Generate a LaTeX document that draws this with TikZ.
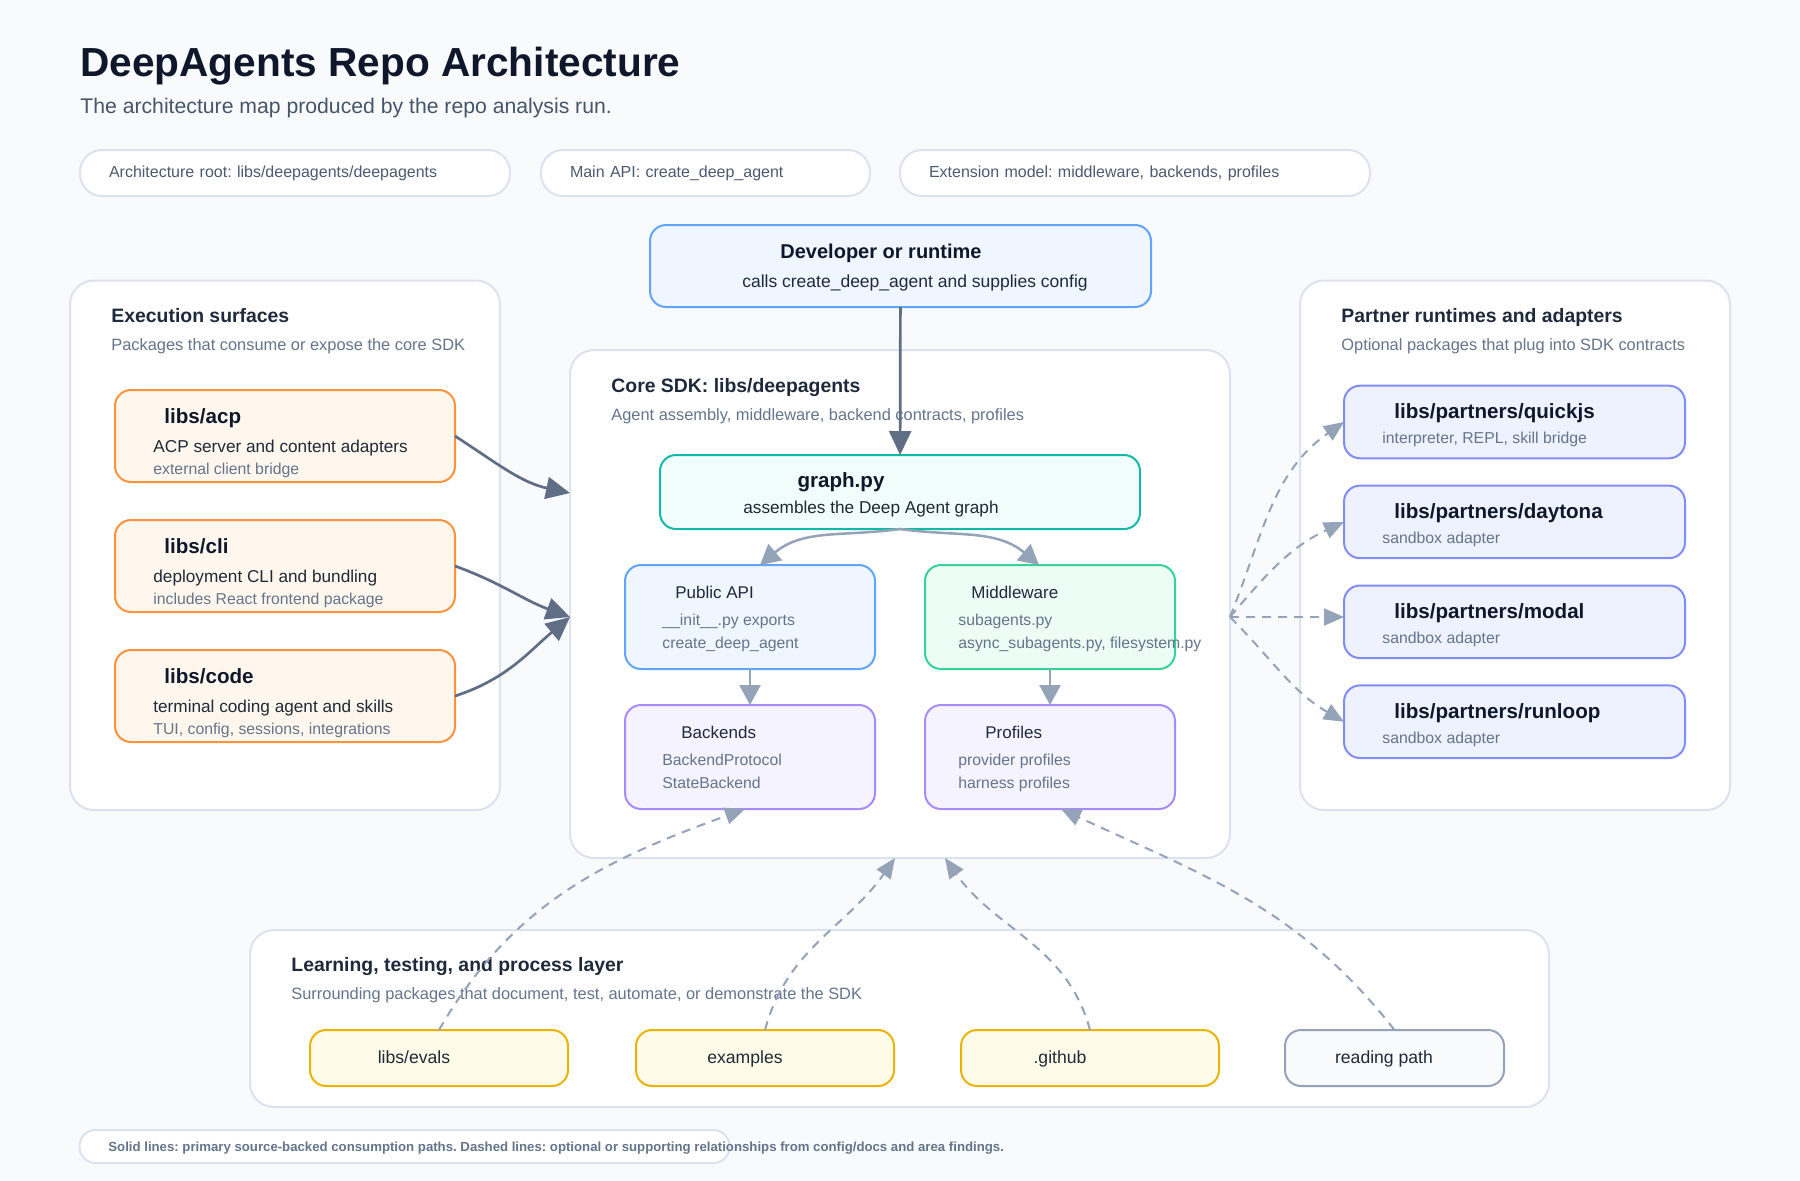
\documentclass[tikz,border=0pt]{standalone}
\usepackage{fontspec}
\setmainfont{Liberation Sans}
\usetikzlibrary{positioning, arrows.meta}
\definecolor{pagebg}{HTML}{F8FAFC}
\definecolor{panelstroke}{HTML}{DCE3EE}
\definecolor{ink}{HTML}{0F172A}
\definecolor{headink}{HTML}{1E293B}
\definecolor{bodyink}{HTML}{1F2937}
\definecolor{subink}{HTML}{475569}
\definecolor{pillink}{HTML}{4B5A70}
\definecolor{mutedink}{HTML}{64748B}
\definecolor{solidline}{HTML}{5F6E85}
\definecolor{dashline}{HTML}{94A3B8}
\definecolor{surffill}{HTML}{FFF7ED}
\definecolor{surfstroke}{HTML}{FB923C}
\definecolor{apifill}{HTML}{EFF6FF}
\definecolor{apistroke}{HTML}{60A5FA}
\definecolor{graphfill}{HTML}{F0FDFA}
\definecolor{graphstroke}{HTML}{14B8A6}
\definecolor{mwfill}{HTML}{ECFDF5}
\definecolor{mwstroke}{HTML}{34D399}
\definecolor{corefill}{HTML}{F5F3FF}
\definecolor{corestroke}{HTML}{A78BFA}
\definecolor{partnerfill}{HTML}{EEF2FF}
\definecolor{partnerstroke}{HTML}{818CF8}
\definecolor{learnfill}{HTML}{FEFBE8}
\definecolor{learnstroke}{HTML}{EAB308}
\definecolor{pathfill}{HTML}{F8FAFC}
\definecolor{pathstroke}{HTML}{94A3B8}

\begin{document}
\frenchspacing
\begin{tikzpicture}[
  x=0.5pt, y=-0.5pt,
  panel/.style={rectangle, rounded corners=12pt, draw=panelstroke, line width=1pt,
                fill=white, inner sep=0pt, outer sep=0pt},
  pill/.style={rectangle, rounded corners=11pt, draw=panelstroke, line width=1pt,
               fill=white, minimum height=23pt, inner xsep=14.5pt, inner ysep=0pt,
               outer sep=0pt, align=left, text=pillink, font=\fontsize{8}{10}\selectfont},
  card/.style={rectangle, rounded corners=8pt, line width=1pt, inner sep=0pt, outer sep=0pt},
  surface/.style={card, draw=surfstroke, fill=surffill,
                  minimum width=170pt, minimum height=46pt},
  partner/.style={card, draw=partnerstroke, fill=partnerfill,
                  minimum width=170.5pt, minimum height=36.3pt},
  module/.style={card, minimum width=125pt, minimum height=52pt},
  process/.style={card, draw=learnstroke, fill=learnfill,
                  minimum width=129pt, minimum height=28pt},
  heading/.style={anchor=base west, inner sep=0pt, text=headink,
                  font=\bfseries\fontsize{9.7}{12}\selectfont},
  blurb/.style={anchor=base west, inner sep=0pt, text=mutedink,
                font=\fontsize{8.2}{10}\selectfont},
  pkg/.style={anchor=base west, inner sep=0pt, text=ink,
              font=\bfseries\fontsize{10.3}{12}\selectfont},
  detail/.style={anchor=base west, inner sep=0pt, text=bodyink,
                 font=\fontsize{8.6}{10}\selectfont},
  fine/.style={anchor=base west, inner sep=0pt, text=mutedink,
               font=\fontsize{7.9}{9}\selectfont},
  modhead/.style={anchor=base west, inner sep=0pt, text=headink,
                  font=\fontsize{8.5}{10}\selectfont},
  chip/.style={anchor=base, inner sep=0pt, text=bodyink,
               font=\fontsize{8.8}{10}\selectfont},
  flow/.style={-{Triangle[length=12pt, width=11pt]}, line width=1.35pt, draw=solidline},
  link/.style={-{Triangle[length=10pt, width=10.5pt]}, line width=1.25pt, draw=dashline},
  hint/.style={-{Triangle[length=10pt, width=8.5pt]}, line width=1pt, draw=dashline,
               dash pattern=on 4.5pt off 3.5pt}
]

\fill[pagebg] (0,0) rectangle (1800,1180);
\useasboundingbox (0,0) rectangle (1800,1180);

% Heading and summary pills.
\node[anchor=base west, inner sep=0pt, text=ink,
      font=\bfseries\fontsize{20.3}{24}\selectfont] (title) at (80,76)
  {DeepAgents Repo Architecture};
\node[anchor=base west, inner sep=0pt, text=subink,
      font=\fontsize{10.6}{13}\selectfont] (subtitle) at (80,113)
  {The architecture map produced by the repo analysis run.};

\node[pill, anchor=west, text width=186pt]   (root)    at (80,173)
  {Architecture root: libs/deepagents/deepagents};
\node[pill, anchor=west, text width=135.5pt] (mainapi) at (541,173)
  {Main API: create\_deep\_agent};
\node[pill, anchor=west, text width=206pt]   (extend)  at (900,173)
  {Extension model: middleware, backends, profiles};

% Caller.
\node[card, draw=apistroke, fill=apifill, minimum width=250.5pt,
      minimum height=41pt] (dev) at (900.5,266) {};
\node[pkg, anchor=base, font=\bfseries\fontsize{10}{12}\selectfont] (dev-t)
  at (881,258) {Developer or runtime};
\node[detail, anchor=base, text=headink, font=\fontsize{8.75}{11}\selectfont] (dev-d)
  at (915,287) {calls create\_deep\_agent and supplies config};

% Execution surfaces (left).
\node[panel, minimum width=215pt, minimum height=264.75pt] (surfaces) at (285,545.25) {};
\node[heading] (surfaces-t) at (111,322.5) {Execution surfaces};
\node[blurb]   (surfaces-d) at (111,350.5) {Packages that consume or expose the core SDK};

\node[surface]                  (acp)  at (285,436) {};
\node[surface, below=19pt of acp] (cli)  {};
\node[surface, below=19pt of cli] (code) {};

\node[pkg]    (acp-t)  at (164,423.5) {libs/acp};
\node[detail] (acp-d)  at (153,452) {ACP server and content adapters};
\node[fine]   (acp-n)  at (153,474) {external client bridge};
\node[pkg]    (cli-t)  at (164,553.5) {libs/cli};
\node[detail] (cli-d)  at (153,582) {deployment CLI and bundling};
\node[fine]   (cli-n)  at (153,604) {includes React frontend package};
\node[pkg]    (code-t) at (164,683) {libs/code};
\node[detail] (code-d) at (153,712) {terminal coding agent and skills};
\node[fine]   (code-n) at (153,734) {TUI, config, sessions, integrations};

% Core SDK (centre).
\node[panel, minimum width=330pt, minimum height=254pt] (core) at (900,604) {};
\node[heading] (core-t) at (611,392) {Core SDK: libs/deepagents};
\node[blurb]   (core-d) at (611,420) {Agent assembly, middleware, backend contracts, profiles};

\node[card, draw=graphstroke, fill=graphfill, minimum width=240pt,
      minimum height=37pt] (graph) at (900,492) {};
\node[pkg, anchor=base]    (graph-t) at (841,487) {graph.py};
\node[detail, anchor=base] (graph-d) at (871,513) {assembles the Deep Agent graph};

\node[module, draw=apistroke, fill=apifill]                      (api)      at (750,617) {};
\node[module, draw=mwstroke, fill=mwfill, right=25pt of api]      (mw)       {};
\node[module, draw=corestroke, fill=corefill, below=18pt of api]  (backends) {};
\node[module, draw=corestroke, fill=corefill, below=18pt of mw]   (profiles) {};

\node[modhead] (api-t)  at (675,598) {Public API};
\node[fine]    (api-a)  at (662,625) {\_\_init\_\_.py exports};
\node[fine]    (api-b)  at (662,648) {create\_deep\_agent};
\node[modhead] (mw-t)   at (971,598) {Middleware};
\node[fine]    (mw-a)   at (958,625) {subagents.py};
\node[fine]    (mw-b)   at (958,648) {async\_subagents.py, filesystem.py};
\node[modhead] (bk-t)   at (681,738) {Backends};
\node[fine]    (bk-a)   at (662,765) {BackendProtocol};
\node[fine]    (bk-b)   at (662,788) {StateBackend};
\node[modhead] (prof-t) at (985,738) {Profiles};
\node[fine]    (prof-a) at (958,765) {provider profiles};
\node[fine]    (prof-b) at (958,788) {harness profiles};

% Partner runtimes (right).
\node[panel, minimum width=215pt, minimum height=264.75pt] (partners) at (1515,545.25) {};
\node[heading] (partners-t) at (1341,322.5) {Partner runtimes and adapters};
\node[blurb]   (partners-d) at (1341,350.5) {Optional packages that plug into SDK contracts};

\node[partner]                           (quickjs) at (1514.5,422) {};
\node[partner, below=13.65pt of quickjs] (daytona) {};
\node[partner, below=13.65pt of daytona] (modal)   {};
\node[partner, below=13.65pt of modal]   (runloop) {};

\node[pkg]  (quickjs-t) at (1394,418) {libs/partners/quickjs};
\node[fine] (quickjs-d) at (1382,443.5) {interpreter, REPL, skill bridge};
\node[pkg]  (daytona-t) at (1394,518) {libs/partners/daytona};
\node[fine] (daytona-d) at (1382,543.5) {sandbox adapter};
\node[pkg]  (modal-t)   at (1394,618) {libs/partners/modal};
\node[fine] (modal-d)   at (1382,643.5) {sandbox adapter};
\node[pkg]  (runloop-t) at (1394,718) {libs/partners/runloop};
\node[fine] (runloop-d) at (1382,743.5) {sandbox adapter};

% Learning, testing and process layer (bottom).
\node[panel, minimum width=649.5pt, minimum height=88.5pt] (learn) at (899.5,1018.5) {};
\node[heading] (learn-t) at (291,971) {Learning, testing, and process layer};
\node[blurb]   (learn-d) at (291,999)
  {Surrounding packages that document, test, automate, or demonstrate the SDK};

\node[process]                           (evals)    at (439,1058) {};
\node[process, right=34pt of evals]      (examples) {};
\node[process, right=33.5pt of examples] (github)   {};
\node[process, draw=pathstroke, fill=pathfill, minimum width=109.5pt,
      right=33pt of github]              (reading)  {};

\node[chip] (evals-t)    at (414,1063)  {libs/evals};
\node[chip] (examples-t) at (745,1063)  {examples};
\node[chip] (github-t)   at (1060,1063) {.github};
\node[chip] (reading-t)  at (1384,1063) {reading path};

% Legend.
\node[pill, minimum width=325pt, minimum height=16.5pt, rounded corners=8pt]
  (legend) at (404.5,1146.5) {};
\node[anchor=base west, inner sep=0pt, text=mutedink,
      font=\bfseries\fontsize{6.6}{8}\selectfont] (legend-t) at (108,1151)
  {Solid lines: primary source-backed consumption paths. Dashed lines: optional or supporting relationships from config/docs and area findings.};

% Primary consumption paths.
\coordinate (fan) at ([yshift=-6.5pt]core.east);
\draw[flow] (dev) -- (graph);
\draw[flow] (acp.east)  to[out=-33, in=168] ([yshift=55.5pt]core.west);
\draw[flow] (cli.east)  to[out=-20, in=160] ([yshift=-6.5pt]core.west);
\draw[flow] (code.east) to[out=18, in=220]  ([yshift=-6.5pt]core.west);

\draw[link] (graph.south) to[out=188, in=40] ([xshift=5pt]api.north);
\draw[link] (graph.south) to[out=-8, in=140] ([xshift=-5.5pt]mw.north);
\draw[link] (api) -- (backends);
\draw[link] (mw)  -- (profiles);

% Optional partners.
\draw[hint] (fan) to[out=68, in=215]  (quickjs.west);
\draw[hint] (fan) to[out=50, in=205]  (daytona.west);
\draw[hint] (fan) -- (fan -| modal.west);
\draw[hint] (fan) to[out=-45, in=150] (runloop.west);

% Supporting packages.
\draw[hint] (evals.north)    to[out=60, in=200]  ([xshift=-2.5pt]backends.south);
\draw[hint] (examples.north) to[out=75, in=235]  ([xshift=-2.5pt]core.south);
\draw[hint] (github.north)   to[out=105, in=-55] ([xshift=22.5pt]core.south);
\draw[hint] (reading.north)  to[out=128, in=-25] ([xshift=5.5pt]profiles.south);

\end{tikzpicture}
\end{document}
